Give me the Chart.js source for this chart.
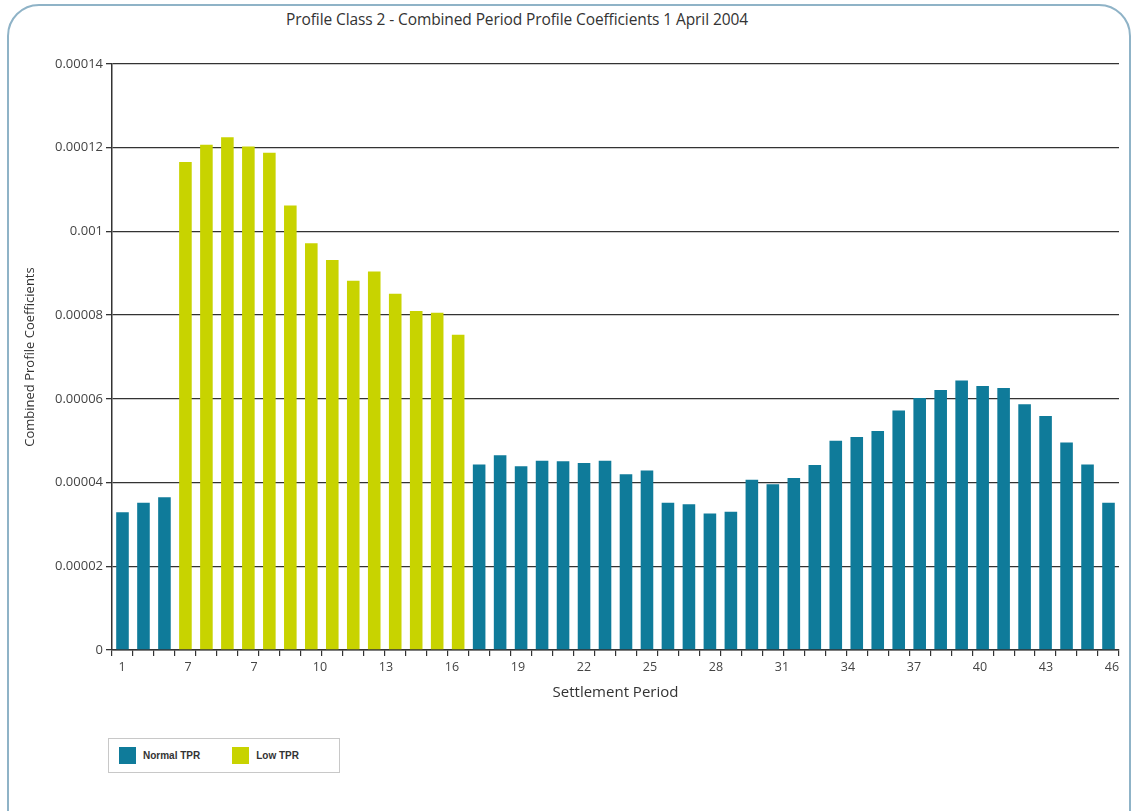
<!DOCTYPE html>
<html>
<head>
<meta charset="utf-8">
<title>Profile Class 2 - Combined Period Profile Coefficients</title>
<script src="https://cdn.jsdelivr.net/npm/chart.js@4.4.1/dist/chart.umd.min.js"></script>
<style>
  html, body { margin: 0; padding: 0; background: #fff; overflow: hidden; }
  body { width: 1137px; height: 811px; position: relative; font-family: 'Open Sans', sans-serif; }
  .frame { position: absolute; left: 7px; top: 4px; width: 1120px; height: 900px;
           border: 2px solid #8fb3c7; border-radius: 32px; }
  .title { position: absolute; left: 0; top: 8px; width: 1034px; text-align: center;
           font-size: 15.5px; color: #333; letter-spacing: -0.1px; }
  .chart-wrap { position: absolute; left: 0; top: 0; width: 1137px; height: 720px; }
  .legend { position: absolute; left: 108px; top: 738px; width: 230px; height: 33px;
            border: 1px solid #c8c8c8; display: flex; align-items: center; }
  .legend .item { display: flex; align-items: center; margin-left: 10px; margin-right: 22px;
                  font: bold 10px 'Liberation Sans', Arial, sans-serif; color: #333; }
  .legend .swatch { width: 17px; height: 17px; margin-right: 7px; }
</style>
</head>
<body>
<div class="frame"></div>
<div class="title">Profile Class 2 - Combined Period Profile Coefficients 1 April 2004</div>
<div class="chart-wrap"><canvas id="pc2-chart"></canvas></div>
<div class="legend" id="legend"></div>

<script>
/* Profile Class 2 — combined period profile coefficients by settlement period */

Chart.defaults.color = '#444';
Chart.defaults.font.family = "'Open Sans', 'DejaVu Sans', sans-serif";
Chart.defaults.font.size = 12;

const TEAL = '#0f7b9a';
const LIME = '#c8d300';

// ── Data ────────────────────────────────────────────────────────────────────

const PERIODS = [
  '1', '2', '3', '4', '5', '6', '7', '8', '9', '10', '11', '12',
  '13', '14', '15', '16', '17', '18', '19', '20', '21', '22', '23', '24',
  '25', '26', '27', '28', '29', '30', '31', '32', '33', '34', '35', '36',
  '37', '38', '39', '40', '41', '42', '43', '44', '45', '46', '47', '48',
];

const NORMAL_TPR = [
  0.0000329, 0.0000352, 0.0000365,
  null, null, null, null, null, null, null, null, null, null, null, null, null, null,
  0.0000443, 0.0000465, 0.0000439, 0.0000452, 0.0000451, 0.0000447, 0.0000452, 0.0000420,
  0.0000429, 0.0000352, 0.0000348, 0.0000326, 0.0000330, 0.0000407, 0.0000396, 0.0000411,
  0.0000442, 0.0000500, 0.0000509, 0.0000523, 0.0000572, 0.0000602, 0.0000621, 0.0000644,
  0.0000631, 0.0000626, 0.0000587, 0.0000559, 0.0000496, 0.0000443, 0.0000352,
];

const LOW_TPR = [
  null, null, null,
  0.0001166, 0.0001207, 0.0001225, 0.0001203, 0.0001188, 0.0001062, 0.0000972,
  0.0000932, 0.0000882, 0.0000904, 0.0000851, 0.0000810, 0.0000806, 0.0000753,
  null, null, null, null, null, null, null, null, null, null, null, null, null, null, null,
  null, null, null, null, null, null, null, null, null, null, null, null, null, null, null, null,
];

const Y_TICK_VALUES = [0, 0.00002, 0.00004, 0.00006, 0.00008, 0.0001, 0.00012, 0.00014];
const Y_TICK_LABELS = ['0', '0.00002', '0.00004', '0.00006', '0.00008', '0.001', '0.00012', '0.00014'];

const X_TICK_VALUES = [1, 4, 7, 10, 13, 16, 19, 22, 25, 28, 31, 34, 37, 40, 43, 46];
const X_TICK_LABELS = ['1', '7', '7', '10', '13', '16', '19', '22', '25', '28', '31', '34', '37', '40', '43', '46'];

// ── Chart ───────────────────────────────────────────────────────────────────

const ctx = document.getElementById('pc2-chart').getContext('2d');

const chart = new Chart(ctx, {
  type: 'bar',
  data: {
    labels: PERIODS,
    datasets: [
      { label: 'Normal TPR', data: NORMAL_TPR, backgroundColor: TEAL, xAxisID: 'x', grouped: false },
      { label: 'Low TPR', data: LOW_TPR, backgroundColor: LIME, xAxisID: 'x', grouped: false },
    ]
  },
  options: {
    responsive: true,
    maintainAspectRatio: false,
    animation: false,
    layout: { padding: { left: 18, right: 18, top: 64, bottom: 14 } },
    datasets: { bar: { barPercentage: 0.6, categoryPercentage: 1.0 } },
    plugins: {
      legend: { display: false },
      tooltip: { enabled: false },
    },
    scales: {
      x: {
        type: 'category',
        offset: true,
        grid: { offset: true, drawOnChartArea: false, drawTicks: true, tickLength: 6, color: '#333', lineWidth: 1.2 },
        border: { color: '#333', width: 1.5 },
        ticks: { display: false },
      },
      // settlement period labels sit on their own axis below the bars
      xl: {
        type: 'linear',
        axis: 'x',
        position: 'bottom',
        weight: 1,
        offset: false,
        min: 0.545,
        max: 46.32,
        afterBuildTicks: axis => { axis.ticks = X_TICK_VALUES.map(v => ({ value: v })); },
        grid: { display: false, drawTicks: false, offset: false },
        border: { display: false },
        ticks: {
          padding: 4, autoSkip: false, maxRotation: 0, color: '#444', font: { size: 12.5 },
          callback: (v, i) => X_TICK_LABELS[i],
        },
        title: { display: true, text: 'Settlement Period', color: '#333', font: { size: 15 }, padding: { top: 5, bottom: 4 } },
      },
      y: {
        min: 0,
        max: 0.00014,
        afterBuildTicks: axis => { axis.ticks = Y_TICK_VALUES.map(v => ({ value: v })); },
        afterFit: axis => { axis.width = 94; },
        grid: { color: '#333', lineWidth: 1.3, tickLength: 6 },
        border: { color: '#333', width: 1.5 },
        ticks: { padding: 3, color: '#444', font: { size: 13 }, callback: (v, i) => Y_TICK_LABELS[i] },
        title: { display: true, text: 'Combined Profile Coefficients', color: '#333', font: { size: 13 }, padding: 4 },
      }
    }
  }
});

// ── Legend ──────────────────────────────────────────────────────────────────

const legendEl = document.getElementById('legend');
legendEl.innerHTML = chart.data.datasets.map(ds =>
  `<span class="item"><span class="swatch" style="background:${ds.backgroundColor}"></span>${ds.label}</span>`
).join('');
</script>
</body>
</html>
